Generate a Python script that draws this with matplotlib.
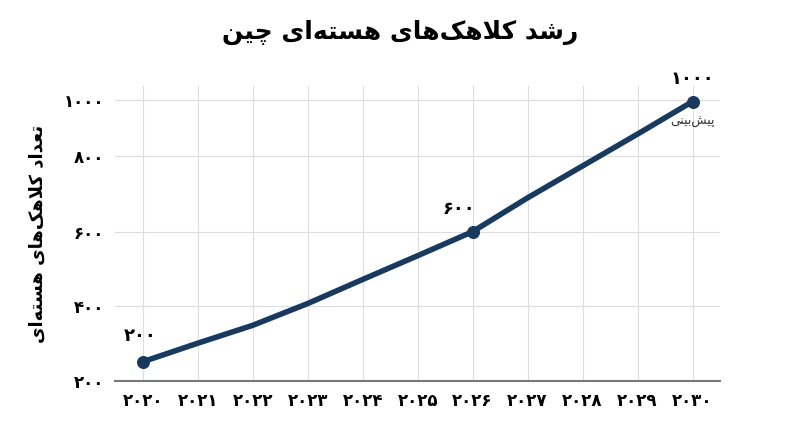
import matplotlib
matplotlib.use("Agg")
import matplotlib.pyplot as plt
from matplotlib.ticker import FixedLocator

years = [2020, 2021, 2022, 2023, 2024, 2025, 2026, 2027, 2028, 2029, 2030]
warheads = [200, 257, 312, 379, 453, 526, 600, 704, 802, 900, 1000]
tick_pos = [140, 370, 600, 833, 1005]
tick_vals = [200, 400, 600, 800, 1000]
title_txt = "رشد کلاهک‌های هسته‌ای چین"
ylabel_txt = "تعداد کلاهک‌های هسته‌ای"
forecast_txt = "پیش‌بینی"

FORMS = {
    'ا': (0xFE8D, 0xFE8E, None, None), 'ب': (0xFE8F, 0xFE90, 0xFE91, 0xFE92),
    'ت': (0xFE95, 0xFE96, 0xFE97, 0xFE98), 'د': (0xFEA9, 0xFEAA, None, None),
    'ر': (0xFEAD, 0xFEAE, None, None), 'س': (0xFEB1, 0xFEB2, 0xFEB3, 0xFEB4),
    'ش': (0xFEB5, 0xFEB6, 0xFEB7, 0xFEB8), 'ع': (0xFEC9, 0xFECA, 0xFECB, 0xFECC),
    'ل': (0xFEDD, 0xFEDE, 0xFEDF, 0xFEE0), 'ن': (0xFEE5, 0xFEE6, 0xFEE7, 0xFEE8),
    'ه': (0xFEE9, 0xFEEA, 0xFEEB, 0xFEEC), 'پ': (0xFB56, 0xFB57, 0xFB58, 0xFB59),
    'چ': (0xFB7A, 0xFB7B, 0xFB7C, 0xFB7D), 'ک': (0xFB8E, 0xFB8F, 0xFB90, 0xFB91),
    'ی': (0xFBFC, 0xFBFD, 0xFBFE, 0xFBFF),
}

def dual(c):
    return c in FORMS and FORMS[c][2] is not None

def shape(s):
    s = s.replace('لا', '\uE000')
    out = []
    n = len(s)
    for i, c in enumerate(s):
        prev = s[i - 1] if i > 0 else ''
        nxt = s[i + 1] if i + 1 < n else ''
        if c == '\u200c':
            continue
        jp = dual(prev)
        if c == '\uE000':
            out.append(chr(0xFEFC if jp else 0xFEFB))
            continue
        if c not in FORMS:
            out.append(c)
            continue
        jn = dual(c) and (nxt in FORMS or nxt == '\uE000')
        iso, fin, ini, med = FORMS[c]
        if jp and jn:
            f = med
        elif jp:
            f = fin
        elif jn:
            f = ini
        else:
            f = iso
        out.append(chr(f))
    return ''.join(reversed(out))

def fa(n):
    return ''.join(chr(0x06F0 + int(d)) for d in str(n))

plt.rcParams['font.family'] = ['DejaVu Sans']
fig = plt.figure(figsize=(8, 4.47), dpi=100)
ax = fig.add_axes([0.144, 0.147, 0.756, 0.66])
navy = '#173a5e'
ax.plot(years, warheads, color=navy, lw=4, solid_capstyle='round', zorder=3)
ix = [0, 6, 10]
ax.scatter([years[i] for i in ix], [warheads[i] for i in ix], s=70, color=navy, zorder=4)
ax.set_xlim(2019.5, 2030.5)
ax.set_ylim(140, 1047)
ax.set_xticks(years)
ax.set_xticklabels([fa(y) for y in years], fontsize=12, fontweight='bold')
ax.yaxis.set_major_locator(FixedLocator(tick_pos))
ax.set_yticklabels([fa(v) for v in tick_vals], fontsize=12, fontweight='bold')
ax.grid(True, color='#dddddd', lw=0.8)
for s in ['top', 'right', 'left']:
    ax.spines[s].set_visible(False)
ax.spines['bottom'].set_color('#777777')
ax.spines['bottom'].set_linewidth(1.5)
ax.tick_params(length=0, pad=8)
ax.set_ylabel(shape(ylabel_txt), fontsize=13, fontweight='bold', labelpad=12)
fig.suptitle(shape(title_txt), fontsize=18, fontweight='bold', y=0.955)
ax.annotate(fa(200), (years[0], warheads[0]), xytext=(-2, 12), textcoords='offset points',
            ha='center', va='bottom', fontsize=13, fontweight='bold')
ax.annotate(fa(600), (years[6], warheads[6]), xytext=(-10, 10), textcoords='offset points',
            ha='center', va='bottom', fontsize=13, fontweight='bold')
ax.annotate(fa(1000), (years[10], warheads[10]), xytext=(0, 10), textcoords='offset points',
            ha='center', va='bottom', fontsize=13, fontweight='bold')
ax.annotate(shape(forecast_txt), (years[10], warheads[10]), xytext=(0, -10), textcoords='offset points',
            ha='center', va='top', fontsize=9, color='#333333')
fig.savefig('out.png', dpi=100, facecolor='white')
